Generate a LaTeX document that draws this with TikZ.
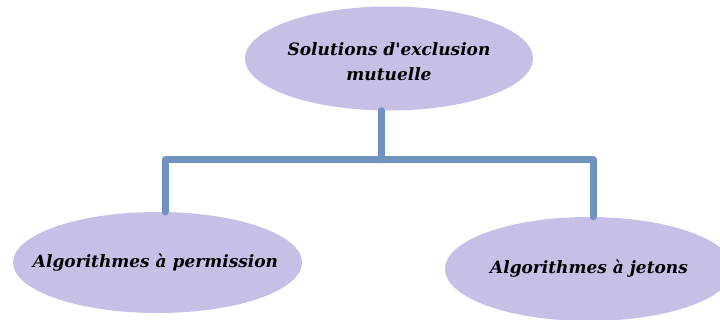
\documentclass[tikz,border=0pt]{standalone}
\usepackage{fontspec}
\setmainfont{DejaVu Serif}
\usetikzlibrary{shapes.geometric}
\definecolor{bubble}{RGB}{200,191,231}
\definecolor{wire}{RGB}{112,146,190}
\tikzset{
  bubble/.style={ellipse, fill=bubble, draw=none, inner sep=0pt,
    minimum width=288pt, minimum height=104pt},
  caption/.style={align=center, inner sep=0pt,
    font=\fontsize{17}{25}\selectfont\bfseries\itshape},
  conn/.style={draw=wire, line width=7pt, line cap=round, line join=round}
}
\begin{document}
\begin{tikzpicture}[x=1pt,y=-1pt]
  \useasboundingbox (0,0) rectangle (720,320);
  % the three ellipses
  \node[bubble] (root) at (389,58.5) {};
  \node[bubble, minimum width=289pt, minimum height=101pt] (perm) at (157.5,262.5) {};
  \node[bubble] (jet) at (589,269) {};
  % their captions
  \node[caption] (rootText) at ([yshift=-3pt]root.center) {Solutions d\textquotesingle exclusion\\mutuelle};
  \node[caption] (permText) at ([xshift=-2pt]perm.center) {Algorithmes à permission};
  \node[caption] (jetText)  at (jet.center) {Algorithmes à jetons};
  % junction points of the tree
  \coordinate (mid) at (381,160);
  \coordinate (jl)  at (165,160);
  \coordinate (jr)  at (593,160);
  % connectors
  \draw[conn] (mid |- root.south) -- (mid);
  \draw[conn] (jl |- perm.north) -- (jl) -- (jr) -- (jr |- jet.north);
\end{tikzpicture}
\end{document}
